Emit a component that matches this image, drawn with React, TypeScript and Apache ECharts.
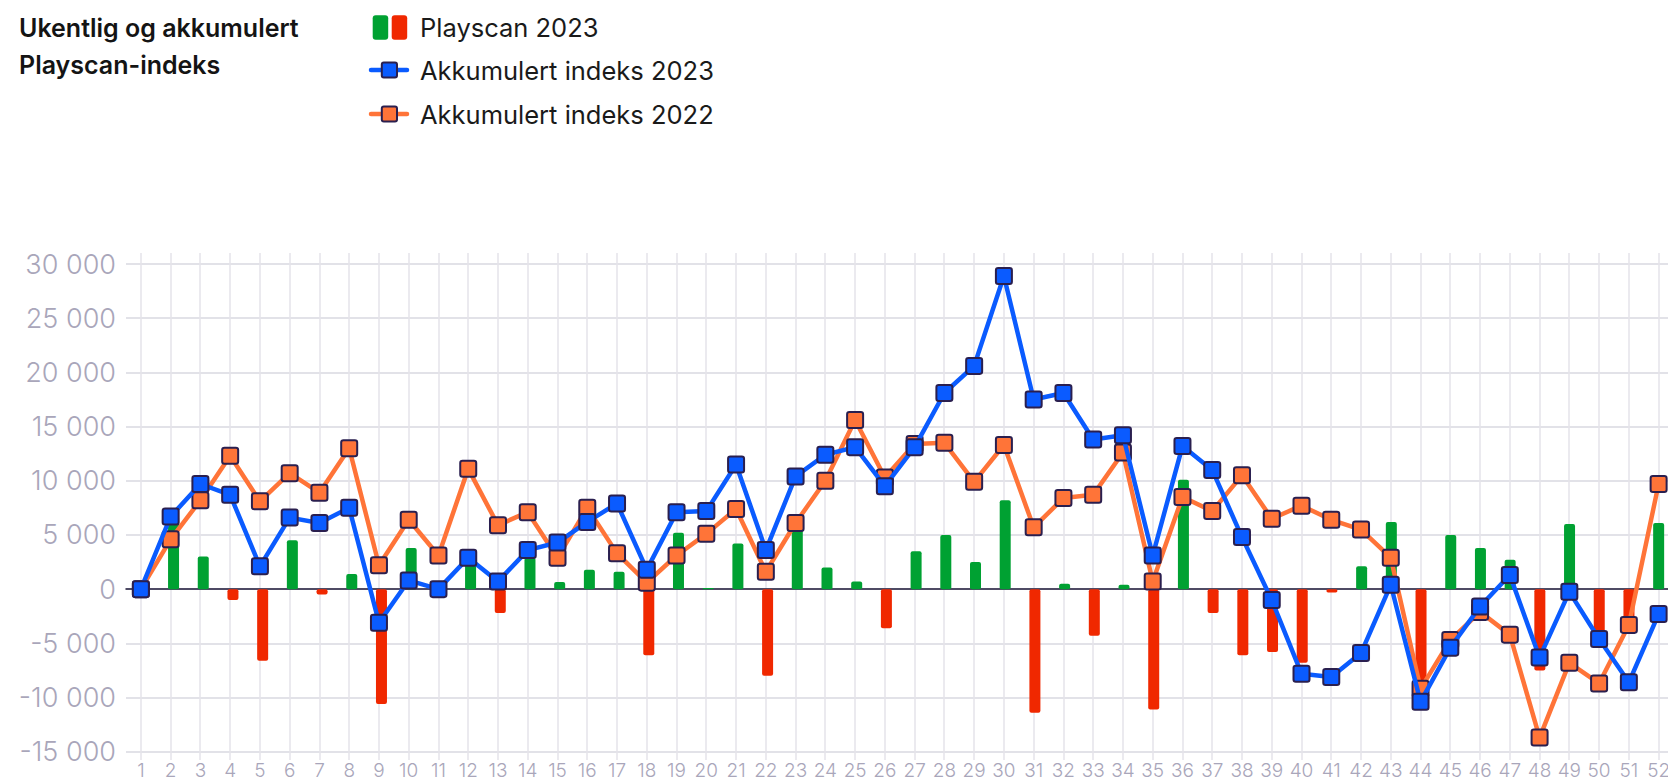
import React, { useEffect, useRef } from "react";
import * as echarts from "echarts";

const weeks = [
  "1", "2", "3", "4", "5", "6", "7", "8", "9", "10", "11", "12", "13",
  "14", "15", "16", "17", "18", "19", "20", "21", "22", "23", "24", "25", "26",
  "27", "28", "29", "30", "31", "32", "33", "34", "35", "36", "37", "38", "39",
  "40", "41", "42", "43", "44", "45", "46", "47", "48", "49", "50", "51", "52",
];

// Weekly Playscan 2023 (bars)
const weekly2023 = [
  0, 6700, 3000, -1000, -6600, 4500, -500, 1400, -10600, 3800, -700, 2900, -2200,
  2900, 650, 1800, 1600, -6100, 5200, 100, 4200, -8000, 6800, 2000, 700, -3600,
  3500, 5000, 2500, 8200, -11400, 500, -4300, 400, -11100, 10100, -2200, -6100, -5800,
  -6800, -300, 2100, 6200, -10800, 5000, 3800, 2700, -7500, 6000, -4400, -4000, 6100,
];

// Akkumulert indeks 2023
const accum2023 = [
  0, 6700, 9700, 8700, 2100, 6600, 6100, 7500, -3100, 800, 0, 2900, 700,
  3600, 4300, 6200, 7900, 1800, 7100, 7200, 11500, 3600, 10400, 12400, 13100, 9500,
  13100, 18100, 20600, 28900, 17500, 18100, 13800, 14200, 3100, 13200, 11000, 4800, -1000,
  -7800, -8100, -5900, 400, -10400, -5400, -1600, 1300, -6300, -250, -4600, -8600, -2300,
];

// Akkumulert indeks 2022
const accum2022 = [
  0, 4600, 8200, 12300, 8100, 10700, 8900, 13000, 2200, 6400, 3100, 11100, 5900,
  7100, 2900, 7500, 3300, 600, 3100, 5100, 7400, 1600, 6100, 10000, 15600, 10300,
  13400, 13500, 9900, 13300, 5700, 8400, 8700, 12600, 700, 8500, 7200, 10500, 6500,
  7700, 6400, 5500, 2900, -9200, -4700, -2100, -4200, -13700, -6800, -8700, -3300, 9700,
];

const yTicks = { min: -15000, max: 30000, interval: 5000 };

const FONT = 'Inter, "Noto Sans", "DejaVu Sans", sans-serif';
const GREEN = "#00a132";
const RED = "#f02800";
const BLUE = "#0a5bff";
const ORANGE = "#ff7438";
const BORDER = "#2a1f4f";
const AXIS_TEXT = "#a9a6ba";

const SQUARE =
  "path://M2,0H12A2,2,0,0,1,14,2V12A2,2,0,0,1,12,14H2A2,2,0,0,1,0,12V2A2,2,0,0,1,2,0Z";

function fmt(v: number): string {
  const s = Math.abs(v)
    .toString()
    .replace(/\B(?=(\d{3})+(?!\d))/g, " ");
  return (v < 0 ? "-" : "") + s;
}

export default function App() {
  const ref = useRef<HTMLDivElement>(null);

  useEffect(() => {
    if (!ref.current) return;
    const chart = echarts.init(ref.current, null, { renderer: "svg" });

    const legendRow = (y: number, color: string, label: string) => [
      {
        type: "line",
        shape: { x1: 371, y1: y, x2: 407, y2: y },
        style: { stroke: color, lineWidth: 4.5, lineCap: "round" },
      },
      {
        type: "rect",
        shape: { x: 381.8, y: y - 7.6, width: 15.2, height: 15.2, r: 2 },
        style: { fill: color, stroke: BORDER, lineWidth: 2 },
      },
      {
        type: "text",
        x: 420,
        y: y,
        style: {
          text: label,
          fontSize: 25.5,
          fontFamily: FONT,
          fill: "#1a1a1a",
          verticalAlign: "middle",
        },
      },
    ];

    const gridBase = { outerBoundsMode: "none", containLabel: false };

    const option: any = {
      animation: false,
      backgroundColor: "#ffffff",
      title: {
        text: "Ukentlig og akkumulert\nPlayscan-indeks",
        left: 19,
        top: 9,
        padding: 0,
        textStyle: {
          fontFamily: FONT,
          fontSize: 25,
          fontWeight: 600,
          lineHeight: 37,
          color: "#141414",
        },
      },
      graphic: [
        {
          type: "rect",
          shape: { x: 372.7, y: 15.3, width: 15.5, height: 24.4, r: 3 },
          style: { fill: GREEN },
        },
        {
          type: "rect",
          shape: { x: 391.7, y: 15.3, width: 15.5, height: 24.4, r: 3 },
          style: { fill: RED },
        },
        {
          type: "text",
          x: 420,
          y: 27.5,
          style: {
            text: "Playscan 2023",
            fontSize: 25.5,
            fontFamily: FONT,
            fill: "#1a1a1a",
            verticalAlign: "middle",
          },
        },
        ...legendRow(70, BLUE, "Akkumulert indeks 2023"),
        ...legendRow(114, ORANGE, "Akkumulert indeks 2022"),
      ],
      grid: [
        { ...gridBase, left: 126, top: 264, width: 1547.5, height: 487.7 },
        { ...gridBase, left: 140.7, top: 253, width: 1517.8, height: 507 },
        { ...gridBase, left: 129, top: 264, width: 1544.5, height: 487.7 },
      ],
      xAxis: [
        {
          gridIndex: 0,
          type: "category",
          data: weeks,
          boundaryGap: true,
          axisLine: { onZero: true, lineStyle: { color: "#1e1838", width: 1.5 } },
          axisTick: { show: false },
          axisLabel: {
            interval: 0,
            color: AXIS_TEXT,
            fontSize: 19,
            fontWeight: 300,
            fontFamily: FONT,
            margin: 9,
          },
          splitLine: { show: false },
        },
        {
          gridIndex: 1,
          type: "category",
          data: weeks,
          boundaryGap: false,
          axisLine: { show: false },
          axisTick: { show: false },
          axisLabel: { show: false },
          splitLine: {
            show: true,
            interval: 0,
            lineStyle: { color: "#e4e3ea", width: 1.5 },
          },
        },
        {
          gridIndex: 2,
          type: "category",
          data: weeks,
          boundaryGap: true,
          show: false,
        },
      ],
      yAxis: [
        {
          gridIndex: 0,
          type: "value",
          min: yTicks.min,
          max: yTicks.max,
          interval: yTicks.interval,
          axisLine: { show: false },
          axisTick: { show: false },
          axisLabel: {
            formatter: (v: number) => fmt(v),
            color: AXIS_TEXT,
            fontSize: 27,
            fontWeight: 300,
            fontFamily: FONT,
            margin: 10,
          },
          splitLine: { lineStyle: { color: "#d9d8e1", width: 1.5 } },
        },
        { gridIndex: 1, type: "value", min: 0, max: 1, show: false },
        {
          gridIndex: 2,
          type: "value",
          min: yTicks.min,
          max: yTicks.max,
          interval: yTicks.interval,
          show: false,
        },
      ],
      series: [
        {
          name: "Playscan 2023",
          type: "bar",
          xAxisIndex: 2,
          yAxisIndex: 2,
          barWidth: 11,
          z: 2,
          data: weekly2023.map((v) => ({
            value: v,
            itemStyle: { color: v >= 0 ? GREEN : RED, borderRadius: 2 },
          })),
        },
        {
          name: "Akkumulert indeks 2022",
          type: "line",
          xAxisIndex: 0,
          yAxisIndex: 0,
          data: accum2022,
          z: 3,
          symbol: SQUARE,
          symbolSize: 16,
          showAllSymbol: true,
          lineStyle: { color: ORANGE, width: 4.5 },
          itemStyle: { color: ORANGE, borderColor: BORDER, borderWidth: 2 },
        },
        {
          name: "Akkumulert indeks 2023",
          type: "line",
          xAxisIndex: 0,
          yAxisIndex: 0,
          data: accum2023,
          z: 4,
          symbol: SQUARE,
          symbolSize: 16,
          showAllSymbol: true,
          lineStyle: { color: BLUE, width: 4.5 },
          itemStyle: { color: BLUE, borderColor: BORDER, borderWidth: 2 },
        },
      ],
    };

    chart.setOption(option);
    return () => chart.dispose();
  }, []);

  return (
    <div
      ref={ref}
      style={{ position: "absolute", left: 0, top: 0, width: 1668, height: 778 }}
    />
  );
}
